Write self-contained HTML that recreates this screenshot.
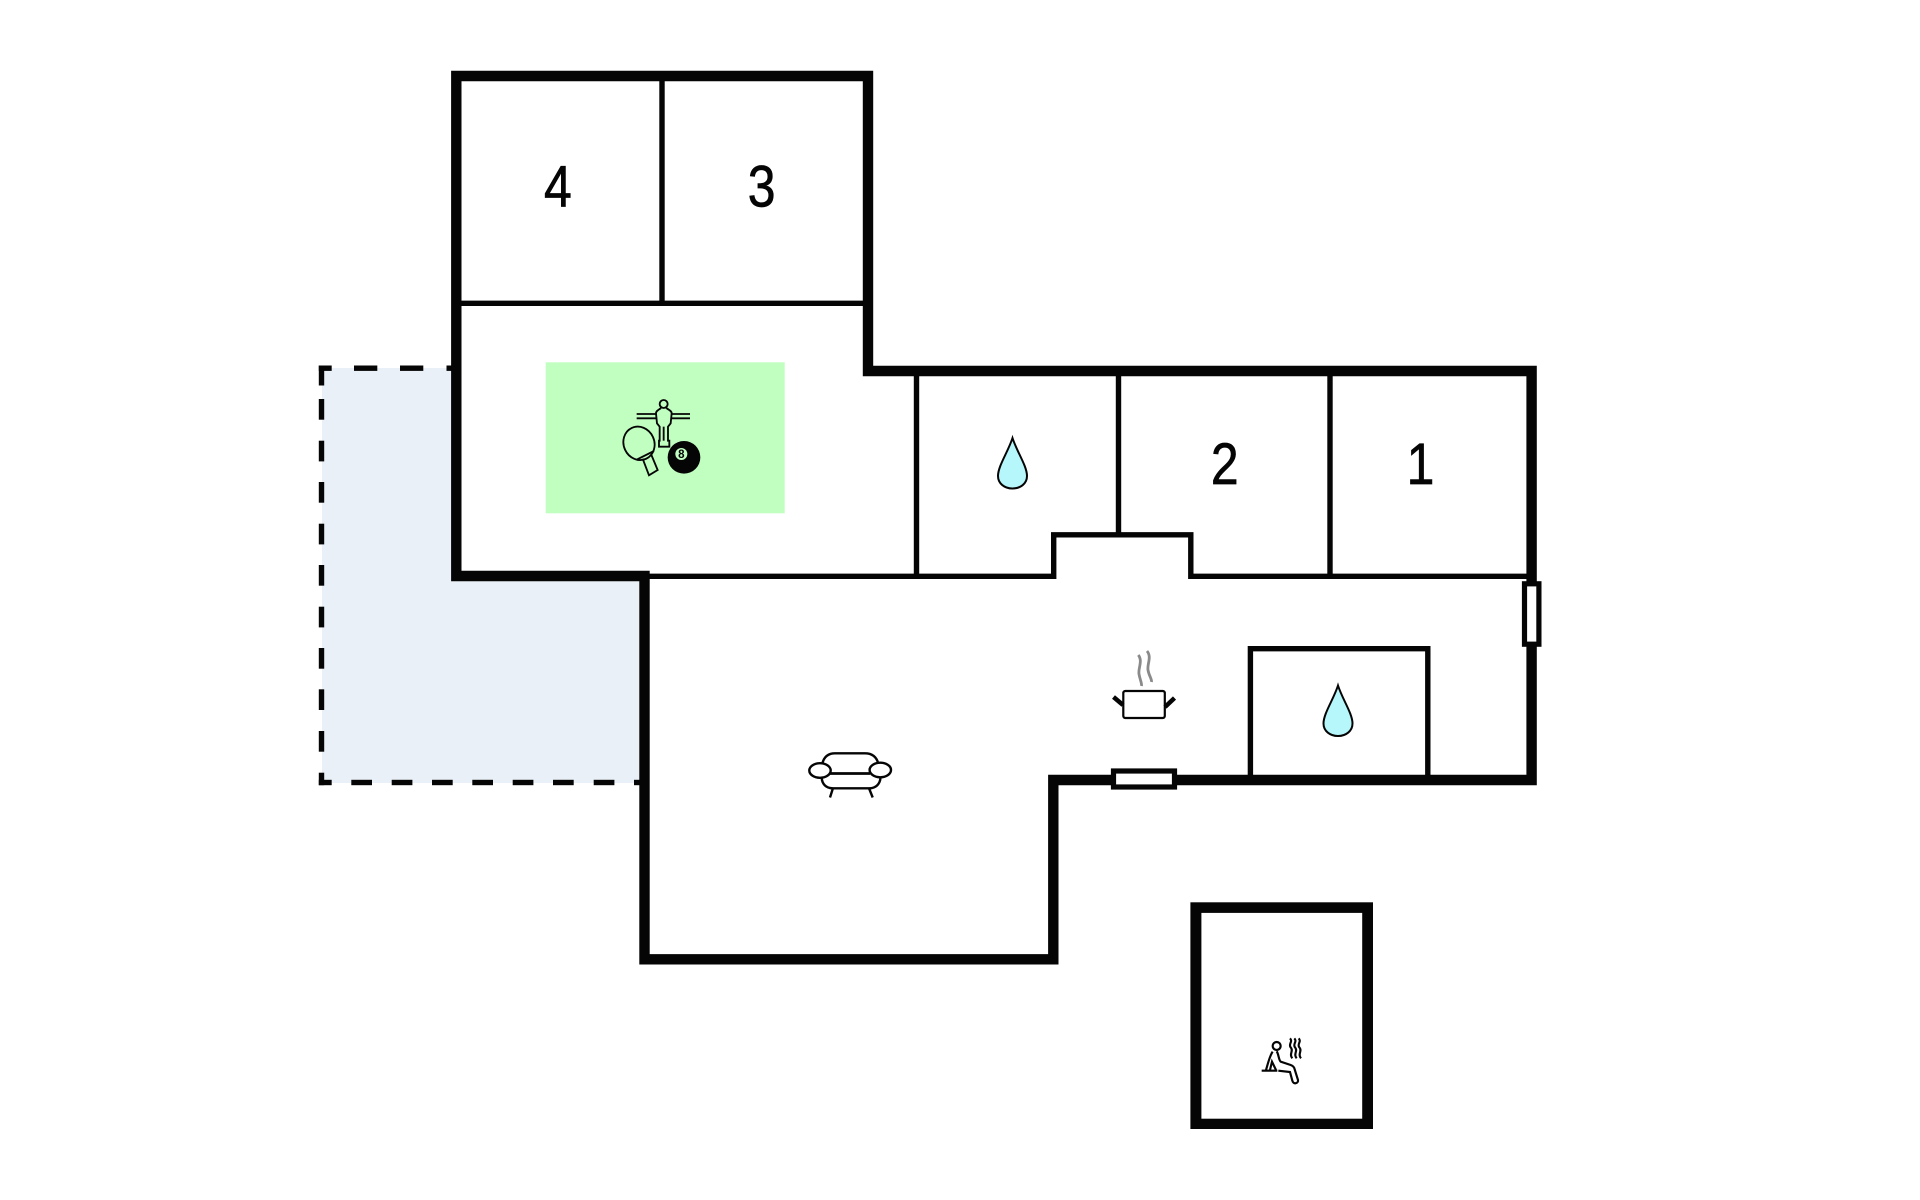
<!DOCTYPE html>
<html>
<head>
<meta charset="utf-8">
<style>
html,body{margin:0;padding:0;background:#fff;width:1920px;height:1200px;overflow:hidden}
svg{display:block}
text{font-family:"Liberation Sans",sans-serif;fill:#050505}
</style>
</head>
<body>
<svg width="1920" height="1200" viewBox="0 0 1920 1200" xmlns="http://www.w3.org/2000/svg">
<rect width="1920" height="1200" fill="#fff"/>
<!-- terrace -->
<path d="M322,368 H456 V576 H644 V783 H322 Z" fill="#e9f0f7"/>
<g fill="#050505">
<rect x="318.800" y="365.500" width="5.400" height="20"/><rect x="318.800" y="365.500" width="12.900" height="5.400"/>
<rect x="354" y="365.500" width="23.300" height="5.400"/><rect x="400" y="365.500" width="23.300" height="5.400"/><rect x="446.500" y="365.500" width="6" height="5.400"/>
<rect x="318.800" y="399" width="5.400" height="20.700"/><rect x="318.800" y="440.700" width="5.400" height="20.700"/><rect x="318.800" y="482" width="5.400" height="20.700"/><rect x="318.800" y="523.700" width="5.400" height="20.700"/><rect x="318.800" y="565" width="5.400" height="20.700"/><rect x="318.800" y="606.700" width="5.400" height="20.700"/><rect x="318.800" y="648" width="5.400" height="20.700"/><rect x="318.800" y="689.300" width="5.400" height="20.700"/><rect x="318.800" y="731" width="5.400" height="20.700"/>
<rect x="318.800" y="772.700" width="5.400" height="12.500"/><rect x="318.800" y="779.800" width="12.900" height="5.400"/>
<rect x="351.300" y="779.800" width="20.700" height="5.400"/><rect x="391.700" y="779.800" width="20.700" height="5.400"/><rect x="432" y="779.800" width="20.700" height="5.400"/><rect x="472.300" y="779.800" width="20.700" height="5.400"/><rect x="512.700" y="779.800" width="20.700" height="5.400"/><rect x="553" y="779.800" width="20.700" height="5.400"/><rect x="593.700" y="779.800" width="20.700" height="5.400"/><rect x="634" y="779.800" width="6" height="5.400"/>
</g>
<!-- activity area -->
<rect x="545.700" y="362.300" width="239" height="151" fill="#c0ffc0"/>
<!-- thin walls -->
<g fill="none" stroke="#050505" stroke-width="5.400">
<path d="M456,303.300 H868"/>
<path d="M662,76 V303.300"/>
<path d="M916.500,371 V576"/>
<path d="M1118.500,371 V535"/>
<path d="M1330,371 V576"/>
<path d="M645,576.300 H1053.700 V534.800 H1190.800 V576.300 H1531"/>
<path d="M1250.400,780 V648.700 H1427.800 V780"/>
</g>
<!-- main outer walls -->
<path d="M456.300,76 H868 V371 H1531.600 V780 H1053.300 V959.300 H644.500 V576 H456.300 Z" fill="none" stroke="#050505" stroke-width="10.400" stroke-miterlimit="10"/>
<!-- sauna building -->
<rect x="1190.400" y="902.300" width="182.600" height="226.700" fill="#050505"/>
<rect x="1201.400" y="912.900" width="160.800" height="205.800" fill="#fff"/>
<!-- windows -->
<rect x="1524.500" y="583.800" width="14.400" height="60.400" fill="#fff" stroke="#050505" stroke-width="5.200"/>
<rect x="1113.500" y="771" width="61" height="16" fill="#fff" stroke="#050505" stroke-width="5.200"/>
<!-- numbers -->
<text transform="translate(557.800,206.500) scale(.86,1)" font-size="58" text-anchor="middle" stroke="#050505" stroke-width=".7">4</text>
<text transform="translate(761.600,206.500) scale(.86,1)" font-size="58" text-anchor="middle" stroke="#050505" stroke-width=".7">3</text>
<text transform="translate(1224.700,484) scale(.86,1)" font-size="58" text-anchor="middle" stroke="#050505" stroke-width=".7">2</text>
<text transform="translate(1420.500,484) scale(.86,1)" font-size="58" text-anchor="middle" stroke="#050505" stroke-width=".7">1</text>
<!-- drops -->
<path d="M1012.500,438 C1008,452 998,466 998,476 C998,483.500 1004.500,488.500 1012.500,488.500 C1020.500,488.500 1027,483.500 1027,476 C1027,466 1017,452 1012.500,438 Z" fill="#b6f7fb" stroke="#050505" stroke-width="2"/>
<path transform="translate(325.500,247.500)" d="M1012.500,438 C1008,452 998,466 998,476 C998,483.500 1004.500,488.500 1012.500,488.500 C1020.500,488.500 1027,483.500 1027,476 C1027,466 1017,452 1012.500,438 Z" fill="#b6f7fb" stroke="#050505" stroke-width="2"/>
<!-- game icons -->
<g transform="translate(600,380) scale(.3333)" fill="none" stroke="#050505" stroke-width="5.500">
<path d="M110,102 H168 M110,115 H170 M214,102 H270 M212,115 H270"/>
<circle cx="191" cy="72" r="12"/>
<path d="M183,84 C176,90 168,92 168,100 L171,130 L179,140 L179,182 L177,182 L177,200 L208,200 L208,182 L204,182 L204,140 L212,130 L215,100 C215,92 206,90 199,84"/>
<path d="M191,140 V182"/>
<ellipse cx="117" cy="190" rx="46" ry="51" transform="rotate(-25 117 190)"/>
<path d="M112,238 L162,213"/>
<path d="M128,236 L147,286 L173,270 L153,222"/>
<circle cx="252" cy="232" r="49" fill="#050505" stroke="none"/>
<circle cx="244" cy="222" r="18" fill="#c0ffc0" stroke="none"/>
</g>
<text x="681.300" y="458" font-size="11.500" font-weight="bold" text-anchor="middle">8</text>
<!-- pot -->
<g fill="none">
<path d="M1138.300,655 C1143,661 1138,668 1139,674 C1140,680 1142,683 1141.500,686" stroke="#8a8a8a" stroke-width="2.800"/>
<path d="M1147,651 C1152,657 1147,664 1148,670 C1149,676 1152,679 1151.500,682" stroke="#8a8a8a" stroke-width="2.800"/>
<rect x="1123.300" y="691" width="41.500" height="27" rx="2" fill="#fff" stroke="#050505" stroke-width="2.200"/>
<path d="M1113.500,697 L1123,705 M1165,707 L1174.500,698" stroke="#050505" stroke-width="4.500"/>
</g>
<!-- sofa -->
<g fill="none" stroke="#050505" stroke-width="2.400">
<path d="M822.300,763.500 C824,757 828,753.300 835,753.300 H865 C872,753.300 876.500,757 878.300,763.500"/>
<path d="M830,773.500 H870" stroke-width="2.800"/>
<path d="M821.700,777.700 C822,784 826,788.300 833,788.300 H869 C876,788.300 880,784 880.500,777.700"/>
<ellipse cx="820" cy="770.500" rx="10.700" ry="7.300"/>
<ellipse cx="880.300" cy="770" rx="10.700" ry="7.300"/>
<path d="M832.700,789 L830,797.500 M869.300,789 L872.700,797.500"/>
</g>
<!-- sauna icon -->
<g transform="translate(1260,1030) scale(.3333)" fill="none" stroke="#050505" stroke-width="6.500">
<circle cx="50" cy="48" r="12"/>
<path d="M5,122 H52"/>
<path d="M38,65 C30,75 24,100 18,120"/>
<path d="M30,120 L36,95 L48,120"/>
<path d="M50,64 C56,72 56,90 62,95 L92,105 C100,108 103,112 104,118 L114,150 C116,160 100,165 97,152 L90,126 L55,122"/>
<path d="M90,25 C100,35 84,42 92,52 C102,62 86,72 97,85"/>
<path d="M103,25 C113,35 97,42 105,52 C115,62 99,72 110,85"/>
<path d="M116,25 C126,35 110,42 118,52 C128,62 112,72 123,85"/>
</g>
</svg>
</body>
</html>
